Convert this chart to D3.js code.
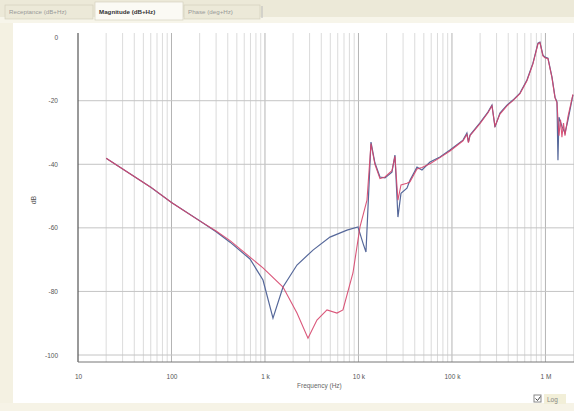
<!DOCTYPE html>
<html>
<head>
<meta charset="utf-8">
<script src="https://cdn.jsdelivr.net/npm/d3@7"></script>
<style>
  body { margin: 0; background: #fff; }
  svg { display: block; font-family: "Liberation Sans", Arial, sans-serif; }
</style>
</head>
<body>
<svg id="chart" width="574" height="411"></svg>
<script>
// --- DATA ---
const tabLabels = ['Receptance (dB+Hz)', 'Magnitude (dB+Hz)', 'Phase (deg+Hz)'];
const xTickValues = [10, 100, 1e3, 1e4, 1e5, 1e6];
const xTickLabels = ['10', '100', '1 k', '10 k', '100 k', '1 M'];
const yTickValues = [0, -20, -40, -60, -80, -100];

// Đường màu xanh (blue)
const blueFreq = [20, 60, 100, 200, 300, 423, 691, 952, 1218, 1559, 2199, 3262, 4955, 7535, 9880,
  11170, 12030, 13610, 15000, 16980, 19200, 22800, 24550, 26430, 28500, 33000, 35550, 42250,
  47780, 58200, 74440, 95200, 131200, 144500, 150000, 156000, 199200, 242600, 267800, 288400,
  326100, 387300, 449000, 533400, 634000, 734800, 831800, 873000, 940000, 988000, 1064000,
  1175000, 1265000, 1328000, 1361000, 1394000, 1500000, 1617000, 1741000, 1968000];
const blueDb = [-38.1, -47.2, -52, -57.8, -61.2, -64.5, -69.8, -76.4, -88.4, -78.6, -71.7, -67.0, -62.9, -60.7, -59.7,
  -64.8, -67.6, -33.0, -39.6, -44.0, -44.3, -42.5, -37.1, -56.6, -49.1, -47.5, -45.0, -40.9,
  -41.8, -39.3, -37.7, -35.5, -32.4, -30.2, -33.0, -30.8, -27.0, -23.6, -21.4, -28.3,
  -23.9, -21.4, -19.8, -17.6, -13.5, -8.2, -1.9, -1.6, -5.7, -6.3, -6.6,
  -12.6, -18.9, -20.4, -38.7, -25.2, -28.0, -30.2, -26.1, -18.2];

// Đường màu đỏ (red)
const redFreq = [20, 60, 100, 200, 300, 423, 691, 952, 1559, 2199, 2884, 3597, 4603, 5888, 6823, 8730,
  10380, 12330, 13610, 15000, 16980, 19200, 22800, 24550, 26430, 28500, 33000, 35550, 42250,
  47780, 58200, 74440, 95200, 131200, 144500, 150000, 156000, 199200, 242600, 267800, 288400,
  326100, 387300, 449000, 533400, 634000, 734800, 831800, 873000, 940000, 988000, 1064000,
  1175000, 1265000, 1328000, 1361000, 1394000, 1450000, 1500000, 1560000, 1617000, 1741000, 1968000];
const redDb = [-38.1, -47.2, -52, -57.8, -61.0, -64.0, -69.2, -72.6, -78.6, -86.8, -94.7, -89.0, -85.8, -86.8, -85.8, -74.2,
  -59.7, -51.3, -33.5, -40.0, -44.5, -44.0, -42.0, -37.5, -51.3, -46.5, -46.0, -45.5, -41.5,
  -41.0, -39.8, -37.9, -35.8, -32.6, -30.6, -33.2, -31.0, -27.2, -23.8, -21.6, -28.0,
  -24.2, -21.6, -20.0, -17.8, -13.7, -8.4, -2.1, -1.7, -5.9, -6.5, -6.8,
  -12.8, -19.1, -20.6, -26.0, -31.0, -26.0, -31.5, -27.0, -31.0, -25.0, -18.0];

// --- SETUP ---
const svg = d3.select('#chart');
const W = 574, H = 411;
const plot = { left: 78, right: 574, top: 33, bottom: 362 };

const x = d3.scaleLog().domain([10, 2.02e6]).range([plot.left, plot.right]);
const y = d3.scaleLinear().domain([-102.2, 1.3]).range([plot.bottom, plot.top]);

// Khung cửa sổ
svg.append('rect').attr('width', W).attr('height', H).attr('fill', '#fff');
svg.append('rect').attr('x', 0).attr('y', 20).attr('width', 13).attr('height', H - 20).attr('fill', '#f4f1e2');
svg.append('rect').attr('x', 0).attr('y', 403).attr('width', W).attr('height', 8).attr('fill', '#f6f3e6');

// Thanh tab
svg.append('rect').attr('width', W).attr('height', 20).attr('fill', '#ece9d8');
svg.append('rect').attr('x', 0).attr('y', 17).attr('width', W).attr('height', 6).attr('fill', '#f7f5ea');
const tabX = [5, 95, 184];
const tabW = [88, 88, 76];
tabLabels.forEach((t, i) => {
  const g = svg.append('g');
  g.append('rect').attr('x', tabX[i]).attr('y', i === 1 ? 2 : 5).attr('width', tabW[i]).attr('height', i === 1 ? 18 : 14)
    .attr('fill', i === 1 ? '#fbfaf4' : '#ece9d8').attr('stroke', '#d0ccb8').attr('stroke-width', 0.6);
  g.append('text').attr('x', tabX[i] + 4).attr('y', 14).attr('font-size', 6.2)
    .attr('fill', i === 1 ? '#333' : '#999').attr('font-weight', i === 1 ? 'bold' : 'normal').text(t);
});
svg.append('line').attr('x1', 262).attr('x2', 262).attr('y1', 6).attr('y2', 18).attr('stroke', '#bbb');

// --- LƯỚI ---
const grid = svg.append('g');
const minorX = [];
for (let d = 10; d < 2.02e6; d *= 10) {
  for (let k = 2; k <= 9; k++) if (d * k <= 2.02e6) minorX.push(d * k);
}
grid.selectAll('.mx').data(minorX).join('line')
  .attr('x1', d => x(d)).attr('x2', d => x(d))
  .attr('y1', plot.top).attr('y2', plot.bottom)
  .attr('stroke', '#d2d2d2').attr('stroke-width', 0.8);
grid.selectAll('.Mx').data(xTickValues.slice(1)).join('line')
  .attr('x1', d => x(d)).attr('x2', d => x(d))
  .attr('y1', plot.top).attr('y2', plot.bottom)
  .attr('stroke', '#b4b4b4').attr('stroke-width', 1);
grid.selectAll('.My').data(yTickValues.slice(1)).join('line')
  .attr('x1', plot.left).attr('x2', plot.right)
  .attr('y1', d => y(d)).attr('y2', d => y(d))
  .attr('stroke', '#c4c4c4').attr('stroke-width', 1);

// --- TRỤC ---
svg.append('line').attr('x1', plot.left).attr('x2', plot.left).attr('y1', plot.top).attr('y2', plot.bottom)
  .attr('stroke', '#555').attr('stroke-width', 1.2);
svg.append('line').attr('x1', plot.left).attr('x2', plot.right).attr('y1', plot.bottom).attr('y2', plot.bottom)
  .attr('stroke', '#777').attr('stroke-width', 1);

const xAxis = svg.append('g').attr('transform', `translate(0,${plot.bottom})`)
  .call(d3.axisBottom(x).tickValues(xTickValues).tickFormat((d, i) => xTickLabels[i]).tickSize(0).tickPadding(12));
const yAxis = svg.append('g').attr('transform', `translate(${plot.left - 20},0)`)
  .call(d3.axisLeft(y).tickValues(yTickValues).tickFormat(d => d).tickSize(0).tickPadding(0));
[xAxis, yAxis].forEach(a => {
  a.select('.domain').remove();
  a.selectAll('text').attr('font-size', 6.5).attr('fill', '#555').attr('font-family', '"Liberation Sans", Arial, sans-serif');
});

svg.append('text').attr('x', 297).attr('y', 388).attr('font-size', 6.5).attr('fill', '#666').text('Frequency (Hz)');
svg.append('text').attr('transform', 'translate(36,200) rotate(-90)').attr('text-anchor', 'middle')
  .attr('font-size', 7).attr('fill', '#555').text('dB');

// Hộp kiểm Log
svg.append('rect').attr('x', 534).attr('y', 395).attr('width', 7).attr('height', 7).attr('fill', '#fff').attr('stroke', '#888');
svg.append('path').attr('d', 'M535.5,398.5 l2,2 l3,-4').attr('fill', 'none').attr('stroke', '#444').attr('stroke-width', 1);
svg.append('rect').attr('x', 544).attr('y', 394).attr('width', 22).attr('height', 10).attr('fill', '#f2efd8');
svg.append('text').attr('x', 547).attr('y', 402).attr('font-size', 6.5).attr('fill', '#888').text('Log');

// --- ĐƯỜNG CONG ---
const line = d3.line().x(d => x(d[0])).y(d => y(d[1]));
svg.append('path').datum(blueFreq.map((f, i) => [f, blueDb[i]]))
  .attr('d', line).attr('fill', 'none').attr('stroke', '#56689a').attr('stroke-width', 1.2);
svg.append('path').datum(redFreq.map((f, i) => [f, redDb[i]]))
  .attr('d', line).attr('fill', 'none').attr('stroke', '#d6456c').attr('stroke-width', 1.1).attr('stroke-opacity', 0.9);
</script>
</body>
</html>
